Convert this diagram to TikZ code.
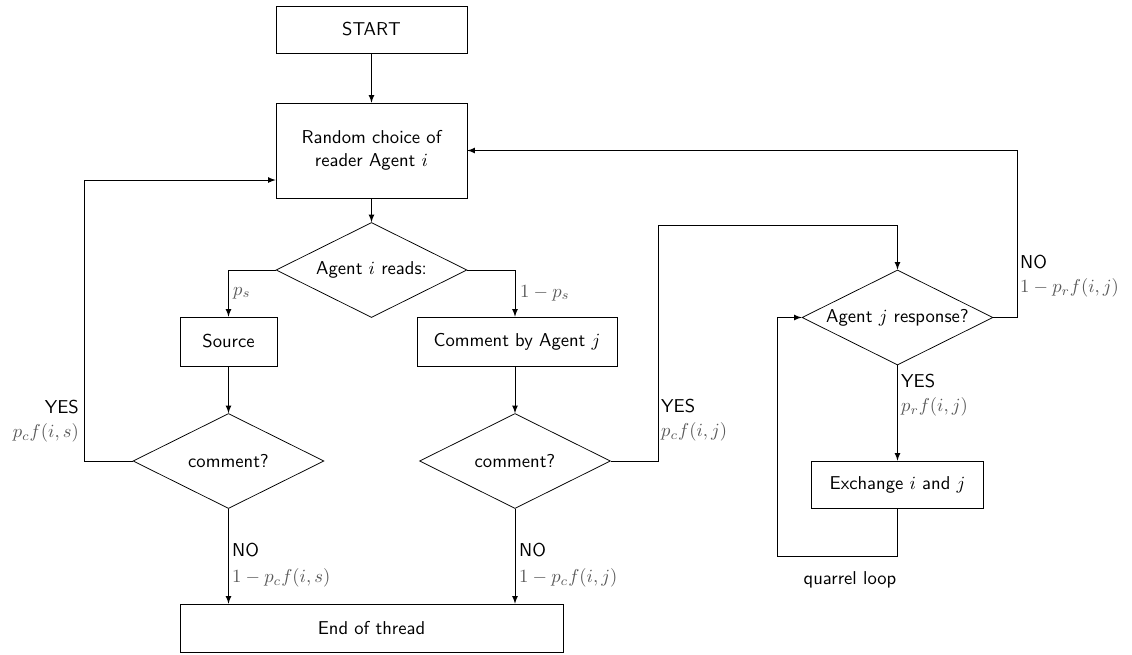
\documentclass[tikz,border=0pt]{standalone}
\usepackage{amsmath}
\usepackage{amssymb}
\usepackage{tikz}
\usepackage{xcolor}
\usetikzlibrary{shapes.geometric, arrows, positioning, calc}

\newcommand{\probl}[1]{\textcolor{black!65}{$#1$}}

\begin{document}
\begin{tikzpicture}[x=0.01887cm, y=-0.01887cm, font=\sffamily,
    box/.style={draw, rectangle, inner sep=0pt, minimum height=0.925cm},
    decision/.style={draw, diamond, aspect=2, inner sep=0pt,
        minimum width=3.604cm, minimum height=1.793cm},
    arr/.style={-latex},
    lab/.style={anchor=west, align=left, inner sep=1pt}]
\useasboundingbox (0,0) rectangle (1132,654);

% main column
\node[box, minimum width=3.604cm, minimum height=0.887cm] (start) at (371.5,29.5) {START};
\node[box, minimum width=3.604cm, minimum height=1.793cm, align=center] (rand) at (371.5,150.5)
    {Random choice of\\reader Agent $i$};
\node[decision] (reads) at (371.5,270) {Agent $i$ reads:};

% source branch
\node[box, minimum width=1.830cm] (src) at (228.5,341.5) {Source};
\node[decision] (dsrc) at (228.5,461) {comment?};

% comment branch
\node[box, minimum width=3.774cm] (cmb) at (517,341.5) {Comment by Agent $j$};
\node[decision] (dcmb) at (515,461) {comment?};

% response / quarrel loop
\node[decision] (resp) at (897.5,317.5) {Agent $j$ response?};
\node[box, minimum width=3.246cm, minimum height=0.887cm] (exch) at (897.5,484.5) {Exchange $i$ and $j$};

\node[box, minimum width=7.227cm, minimum height=0.906cm] (end) at (371.5,628) {End of thread};

\coordinate (upj) at (658,225);
\coordinate (qloop) at (777,556);

\draw[arr] (start) -- (rand);
\draw[arr] (rand) -- (reads);
\draw[arr] (reads.west) -| (src);
\draw[arr] (reads.east) -| (dcmb.north |- cmb.north);
\draw[arr] (src) -- (dsrc);
\draw[arr] (dcmb.north |- cmb.south) -- (dcmb);
\draw[arr] (dsrc.west) -- ++(-48,0) |- ([yshift=-0.557cm]rand.west);
\draw[arr] (dcmb.east) -| (upj) -| (resp);
\draw[arr] (resp.east) -- ++(24,0) |- (rand.east);
\draw[arr] (resp) -- (exch);
\draw[arr] (exch.south) |- (qloop) |- (resp.west);
\draw[arr] (dsrc.south) -- (dsrc.south |- end.north);
\draw[arr] (dcmb.south) -- (dcmb.south |- end.north);

% labels
\node[lab] (lps) at (231,293) {\probl{p_s}};
\node[lab] (l1ps) at (518,293) {\probl{1-p_s}};
\node[lab, anchor=east, align=right] (lyess) at (81,421) {YES\\[1pt]\probl{p_c f(i,s)}};
\node[lab] (lyesj) at (659,420) {YES\\[1pt]\probl{p_c f(i,j)}};
\node[lab] (lnoj) at (1018,276) {NO\\[1pt]\probl{1-p_r f(i,j)}};
\node[lab] (lyesr) at (899,395) {YES\\[1pt]\probl{p_r f(i,j)}};
\node[lab] (lnos) at (230,565) {NO\\[2pt]\probl{1-p_c f(i,s)}};
\node[lab] (lnoc) at (517,565) {NO\\[2pt]\probl{1-p_c f(i,j)}};
\node (qlab) at (850,580) {quarrel loop};
\end{tikzpicture}
\end{document}
